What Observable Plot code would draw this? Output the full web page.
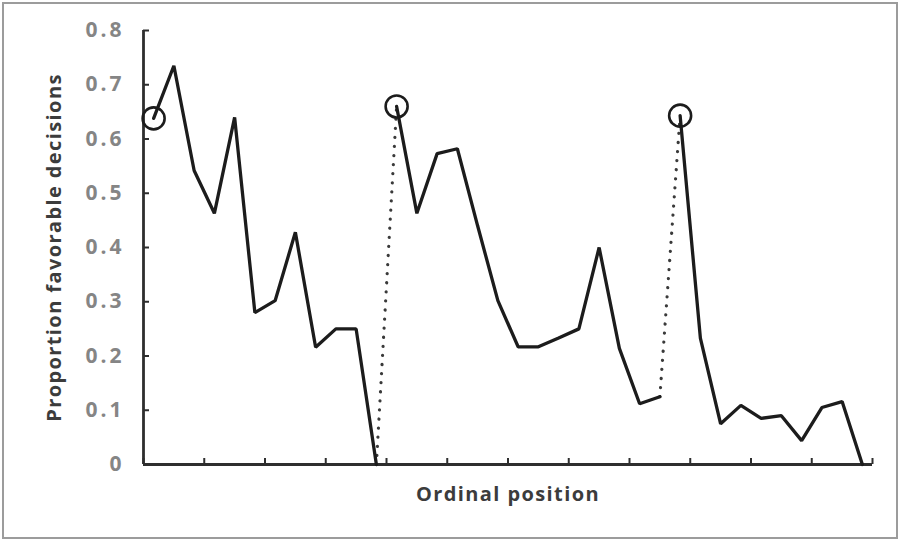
<!DOCTYPE html>
<html>
<head>
<meta charset="utf-8">
<script src="https://cdn.jsdelivr.net/npm/d3@7"></script>
<script src="https://cdn.jsdelivr.net/npm/@observablehq/plot@0.6"></script>
<style>
  html, body { margin: 0; padding: 0; background: #ffffff; }
  #wrap { position: relative; width: 904px; height: 544px; }
  #border { position: absolute; left: 2px; top: 2px; width: 892px; height: 533px;
            border: 2px solid #9c9c9c; pointer-events: none; }
</style>
</head>
<body>
<div id="wrap"><div id="chart"></div><div id="border"></div></div>
<script>
// Ordinal positions of the decisions (three sessions separated by food breaks)
const session1Positions = [1, 2, 3, 4, 5, 6, 7, 8, 9, 10, 11, 12];
const session1Values    = [0.638, 0.735, 0.542, 0.463, 0.640, 0.280, 0.302, 0.428, 0.216, 0.250, 0.250, 0.000];

const session2Positions = [13, 14, 15, 16, 17, 18, 19, 20, 21, 22, 23, 24, 25, 26];
const session2Values    = [0.660, 0.463, 0.573, 0.582, 0.440, 0.302, 0.217, 0.217, 0.233, 0.250, 0.400, 0.214, 0.112, 0.125];

const session3Positions = [27, 28, 29, 30, 31, 32, 33, 34, 35, 36];
const session3Values    = [0.643, 0.233, 0.075, 0.109, 0.085, 0.090, 0.044, 0.105, 0.116, 0.000];

const xTicks = [0.5, 3.5, 6.5, 9.5, 12.5, 15.5, 18.5, 21.5, 24.5, 27.5, 30.5, 33.5, 36.5];
const yTicks = [0, 0.1, 0.2, 0.3, 0.4, 0.5, 0.6, 0.7, 0.8];
const yTickLabels = ["0", "0.1", "0.2", "0.3", "0.4", "0.5", "0.6", "0.7", "0.8"];

const xLabel = "Ordinal position";
const yLabel = "Proportion favorable decisions";

// Build tables
const sessions = [
  {name: "s1", pos: session1Positions, val: session1Values},
  {name: "s2", pos: session2Positions, val: session2Values},
  {name: "s3", pos: session3Positions, val: session3Values}
];
const rows = sessions.flatMap(s => s.pos.map((p, i) => ({pos: p, value: s.val[i], session: s.name})));
const firsts = sessions.map(s => ({pos: s.pos[0], value: s.val[0]}));
const connectors = sessions.slice(1).map((s, i) => {
  const prev = sessions[i];
  return {x1: prev.pos[prev.pos.length - 1], y1: prev.val[prev.val.length - 1], x2: s.pos[0], y2: s.val[0]};
});

const ink = "#1c1c1c";
const axisInk = "#2e2e2e";

const chart = Plot.plot({
  width: 904,
  height: 544,
  marginLeft: 143,
  marginRight: 32,
  marginTop: 30,
  marginBottom: 80,
  style: {fontFamily: "'Open Sans', sans-serif", background: "#ffffff"},
  x: {domain: [0.5, 36.5]},
  y: {domain: [0, 0.8]},
  marks: [
    Plot.axisX({ticks: xTicks, tickSize: -6, tickFormat: () => "", stroke: axisInk, strokeWidth: 2, label: null}),
    Plot.axisY({ticks: yTicks, tickSize: -6, tickFormat: () => "", stroke: axisInk, strokeWidth: 2, label: null}),
    Plot.axisY({ticks: yTicks, tickSize: 0, tickPadding: 19,
                tickFormat: d => yTickLabels[yTicks.indexOf(d)],
                color: "#858585", fontSize: 21, fontWeight: 700, label: null}),
    Plot.ruleY([0], {stroke: axisInk, strokeWidth: 2.8}),
    Plot.ruleX([0.5], {stroke: axisInk, strokeWidth: 2.8}),
    Plot.link(connectors, {x1: "x1", y1: "y1", x2: "x2", y2: "y2",
                           stroke: "#3a3a3a", strokeWidth: 3.2, strokeDasharray: "0.1 9", strokeLinecap: "round"}),
    Plot.line(rows, {x: "pos", y: "value", z: "session", stroke: ink, strokeWidth: 3.3, strokeLinejoin: "miter"}),
    Plot.dot(firsts, {x: "pos", y: "value", r: 11, stroke: ink, strokeWidth: 2.6, fill: "none"}),
    Plot.text([yLabel], {frameAnchor: "left", dx: -89, rotate: -90, fontSize: 20, fontWeight: 700,
                         fill: "#3c3c3c", textAnchor: "middle", lineAnchor: "middle"}),
    Plot.text([xLabel], {frameAnchor: "bottom", dy: 30, fontSize: 20, fontWeight: 700,
                         fill: "#3c3c3c", textAnchor: "middle", lineAnchor: "middle"})
  ]
});

// widen the lettering to match the reference typography
d3.select(chart).selectAll("g[aria-label='text'] text").style("letter-spacing", "1.4px");
d3.select(chart).selectAll("g[aria-label='y-axis tick label'] text").style("letter-spacing", "3px");

document.getElementById("chart").appendChild(chart);
</script>
</body>
</html>
